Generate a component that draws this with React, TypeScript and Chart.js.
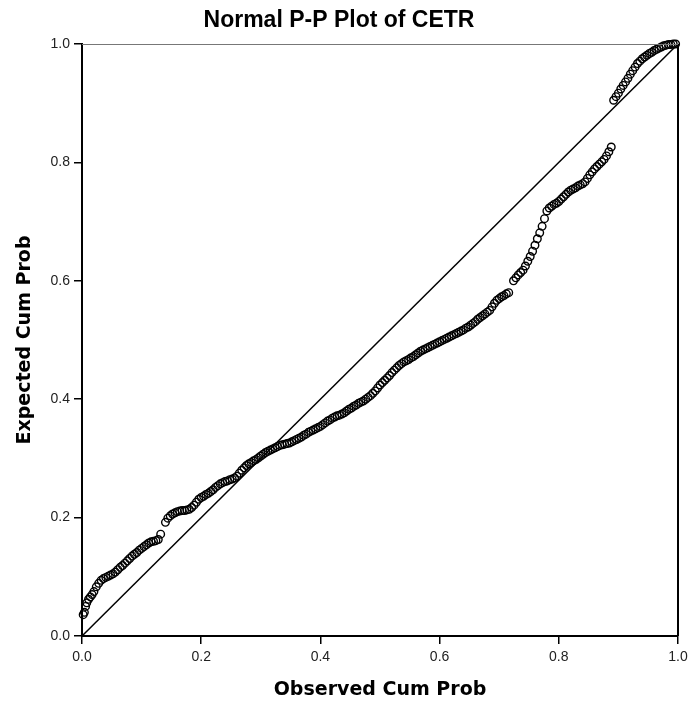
import React, { useEffect, useRef } from "react";
import { Chart, registerables } from "chart.js";

Chart.register(...registerables);

const chartTitle = "Normal P-P Plot of CETR";
const xTitle = "Observed Cum Prob";
const yTitle = "Expected Cum Prob";
const tickValues = [0, 0.2, 0.4, 0.6, 0.8, 1.0];

const observedCumProb = [
  0.002, 0.004, 0.006, 0.008, 0.011, 0.014, 0.017, 0.020, 0.024,
  0.028, 0.032, 0.036, 0.040, 0.044, 0.048, 0.052, 0.056, 0.060, 0.064,
  0.068, 0.072, 0.076, 0.080, 0.084, 0.088, 0.092, 0.096, 0.100, 0.104,
  0.108, 0.112, 0.116, 0.120, 0.124, 0.128, 0.132, 0.140, 0.144, 0.148,
  0.152, 0.156, 0.160, 0.164, 0.168, 0.172, 0.176, 0.180, 0.184, 0.188,
  0.192, 0.196, 0.200, 0.204, 0.208, 0.212, 0.216, 0.220, 0.224, 0.228,
  0.232, 0.236, 0.240, 0.244, 0.248, 0.252, 0.256, 0.260, 0.264, 0.268,
  0.272, 0.276, 0.280, 0.284, 0.288, 0.292, 0.296, 0.300, 0.304, 0.308,
  0.312, 0.316, 0.320, 0.324, 0.328, 0.332, 0.336, 0.340, 0.344, 0.348,
  0.352, 0.356, 0.360, 0.364, 0.368, 0.372, 0.376, 0.380, 0.384, 0.388,
  0.392, 0.396, 0.400, 0.404, 0.408, 0.412, 0.416, 0.420, 0.424, 0.428,
  0.432, 0.436, 0.440, 0.444, 0.448, 0.452, 0.456, 0.460, 0.464, 0.468,
  0.472, 0.476, 0.480, 0.484, 0.488, 0.492, 0.496, 0.500, 0.504, 0.508,
  0.512, 0.516, 0.520, 0.524, 0.528, 0.532, 0.536, 0.540, 0.544, 0.548,
  0.552, 0.556, 0.560, 0.564, 0.568, 0.572, 0.576, 0.580, 0.584, 0.588,
  0.592, 0.596, 0.600, 0.604, 0.608, 0.612, 0.616, 0.620, 0.624, 0.628,
  0.632, 0.636, 0.640, 0.644, 0.648, 0.652, 0.656, 0.660, 0.664, 0.668,
  0.672, 0.676, 0.680, 0.684, 0.688, 0.692, 0.696, 0.700, 0.704, 0.708,
  0.712, 0.716, 0.724, 0.728, 0.732, 0.736, 0.740, 0.744, 0.748, 0.752,
  0.756, 0.760, 0.764, 0.768, 0.772, 0.776, 0.780, 0.784, 0.788, 0.792,
  0.796, 0.800, 0.804, 0.808, 0.812, 0.816, 0.820, 0.824, 0.828, 0.832,
  0.836, 0.840, 0.844, 0.848, 0.852, 0.856, 0.860, 0.864, 0.868, 0.872,
  0.876, 0.880, 0.884, 0.888, 0.892, 0.896, 0.900, 0.904, 0.908, 0.912,
  0.916, 0.920, 0.924, 0.928, 0.932, 0.936, 0.940, 0.944, 0.948, 0.952,
  0.956, 0.960, 0.964, 0.968, 0.972, 0.976, 0.980, 0.984, 0.988, 0.992, 0.996,
];

const expectedCumProb = [
  0.036, 0.040, 0.050, 0.056, 0.062, 0.066, 0.070, 0.075, 0.083,
  0.089, 0.094, 0.097, 0.099, 0.101, 0.103, 0.105, 0.108, 0.112, 0.116,
  0.119, 0.123, 0.127, 0.131, 0.135, 0.138, 0.141, 0.145, 0.148, 0.151,
  0.154, 0.157, 0.159, 0.160, 0.161, 0.163, 0.172, 0.192, 0.199, 0.203,
  0.206, 0.208, 0.210, 0.211, 0.212, 0.212, 0.213, 0.214, 0.217, 0.221,
  0.226, 0.231, 0.234, 0.236, 0.239, 0.241, 0.244, 0.247, 0.251, 0.254,
  0.257, 0.259, 0.261, 0.262, 0.264, 0.265, 0.267, 0.270, 0.275, 0.280,
  0.284, 0.288, 0.291, 0.293, 0.296, 0.298, 0.301, 0.304, 0.307, 0.310,
  0.312, 0.314, 0.316, 0.318, 0.320, 0.322, 0.323, 0.324, 0.325, 0.326,
  0.328, 0.330, 0.332, 0.334, 0.336, 0.339, 0.341, 0.344, 0.346, 0.348,
  0.350, 0.352, 0.354, 0.357, 0.360, 0.363, 0.365, 0.368, 0.370, 0.372,
  0.373, 0.375, 0.377, 0.380, 0.383, 0.385, 0.388, 0.390, 0.393, 0.395,
  0.397, 0.400, 0.403, 0.406, 0.410, 0.414, 0.419, 0.424, 0.428, 0.432,
  0.436, 0.440, 0.445, 0.449, 0.453, 0.457, 0.460, 0.463, 0.465, 0.467,
  0.470, 0.472, 0.475, 0.478, 0.481, 0.483, 0.485, 0.487, 0.489, 0.491,
  0.493, 0.495, 0.497, 0.499, 0.501, 0.503, 0.505, 0.507, 0.509, 0.511,
  0.513, 0.515, 0.517, 0.520, 0.522, 0.525, 0.528, 0.531, 0.535, 0.538,
  0.541, 0.544, 0.547, 0.550, 0.556, 0.562, 0.567, 0.570, 0.573, 0.575,
  0.578, 0.580, 0.600, 0.605, 0.610, 0.614, 0.618, 0.625, 0.633, 0.641,
  0.650, 0.660, 0.671, 0.681, 0.692, 0.705, 0.718, 0.723, 0.726, 0.729,
  0.731, 0.734, 0.738, 0.742, 0.746, 0.750, 0.753, 0.755, 0.757, 0.760,
  0.762, 0.764, 0.767, 0.773, 0.779, 0.784, 0.789, 0.793, 0.797, 0.801,
  0.805, 0.811, 0.818, 0.826, 0.905, 0.911, 0.917, 0.924, 0.930, 0.936,
  0.942, 0.949, 0.955, 0.961, 0.967, 0.971, 0.975, 0.978, 0.981, 0.984,
  0.986, 0.989, 0.991, 0.993, 0.995, 0.997, 0.998, 0.999, 0.999, 1.000, 1.000,
];

const referenceLine = [
  { x: 0, y: 0 },
  { x: 1, y: 1 },
];

const framePlugin = {
  id: "frame",
  afterDatasetsDraw(chart: any) {
    const { ctx, chartArea } = chart;
    const { left, right, top, bottom } = chartArea;
    ctx.save();
    ctx.strokeStyle = "#000";
    ctx.lineWidth = 2;
    ctx.beginPath();
    ctx.moveTo(right, top);
    ctx.lineTo(right, bottom);
    ctx.stroke();
    ctx.strokeStyle = "#777";
    ctx.lineWidth = 1;
    ctx.beginPath();
    ctx.moveTo(left, top + 0.5);
    ctx.lineTo(right, top + 0.5);
    ctx.stroke();
    ctx.restore();
  },
};

export default function App() {
  const ref = useRef<HTMLCanvasElement | null>(null);

  useEffect(() => {
    document.body.style.margin = "0";
    const canvas = ref.current;
    if (!canvas) return;
    const points = observedCumProb.map((x, i) => ({ x, y: expectedCumProb[i] }));
    const tickFont = { family: "'Liberation Sans', Arial, sans-serif", size: 14 };
    const axisTitleFont = { family: "'DejaVu Sans', Verdana, sans-serif", size: 19, weight: "bold" as const };

    const chart = new Chart(canvas, {
      type: "scatter",
      data: {
        datasets: [
          {
            label: "Reference",
            data: referenceLine,
            showLine: true,
            borderColor: "#000",
            borderWidth: 1.5,
            pointRadius: 0,
            fill: false,
          } as any,
          {
            label: "CETR",
            data: points,
            pointRadius: 3.8,
            pointBorderWidth: 1.4,
            borderColor: "#000",
            backgroundColor: "rgba(0,0,0,0)",
            pointBackgroundColor: "rgba(0,0,0,0)",
            clip: false,
          } as any,
        ],
      },
      options: {
        responsive: false,
        animation: false,
        layout: { padding: { left: 0, right: 10, top: 0, bottom: 0 } },
        plugins: {
          legend: { display: false },
          tooltip: { enabled: false },
          title: {
            display: true,
            text: chartTitle,
            color: "#000",
            font: { family: "'Liberation Sans', Arial, sans-serif", size: 23, weight: "bold" },
            padding: { top: 7, bottom: 9.4 },
          },
        },
        scales: {
          x: {
            type: "linear",
            min: 0,
            max: 1,
            afterBuildTicks: (scale: any) => {
              scale.ticks = tickValues.map((v) => ({ value: v }));
            },
            afterFit: (scale: any) => {
              scale.height = 65;
              scale.paddingLeft = 0;
              scale.paddingRight = 0;
            },
            ticks: {
              color: "#222",
              font: tickFont,
              padding: 5,
              maxRotation: 0,
              autoSkip: false,
              callback: (v: any) => Number(v).toFixed(1),
            },
            grid: {
              display: true,
              drawOnChartArea: false,
              drawTicks: true,
              tickLength: 8,
              color: "#000",
              lineWidth: 1.5,
            },
            border: { display: true, color: "#000", width: 2 },
            title: {
              display: true,
              text: xTitle,
              color: "#000",
              font: axisTitleFont,
              padding: { top: 0, bottom: 0 },
            },
          },
          y: {
            type: "linear",
            min: 0,
            max: 1,
            afterBuildTicks: (scale: any) => {
              scale.ticks = tickValues.map((v) => ({ value: v }));
            },
            afterFit: (scale: any) => {
              scale.width = 82;
              scale.paddingTop = 0;
              scale.paddingBottom = 0;
            },
            ticks: {
              color: "#222",
              font: tickFont,
              padding: 4,
              autoSkip: false,
              callback: (v: any) => Number(v).toFixed(1),
            },
            grid: {
              display: true,
              drawOnChartArea: false,
              drawTicks: true,
              tickLength: 8,
              color: "#000",
              lineWidth: 1.5,
            },
            border: { display: true, color: "#000", width: 2 },
            title: {
              display: true,
              text: yTitle,
              color: "#000",
              font: axisTitleFont,
              padding: { top: 14, bottom: 0 },
            },
          },
        },
      },
      plugins: [framePlugin],
    });

    return () => chart.destroy();
  }, []);

  return (
    <div style={{ position: "absolute", left: 0, top: 0, width: 688, height: 701, background: "#fff" }}>
      <canvas ref={ref} width={688} height={701} style={{ display: "block" }} />
    </div>
  );
}
